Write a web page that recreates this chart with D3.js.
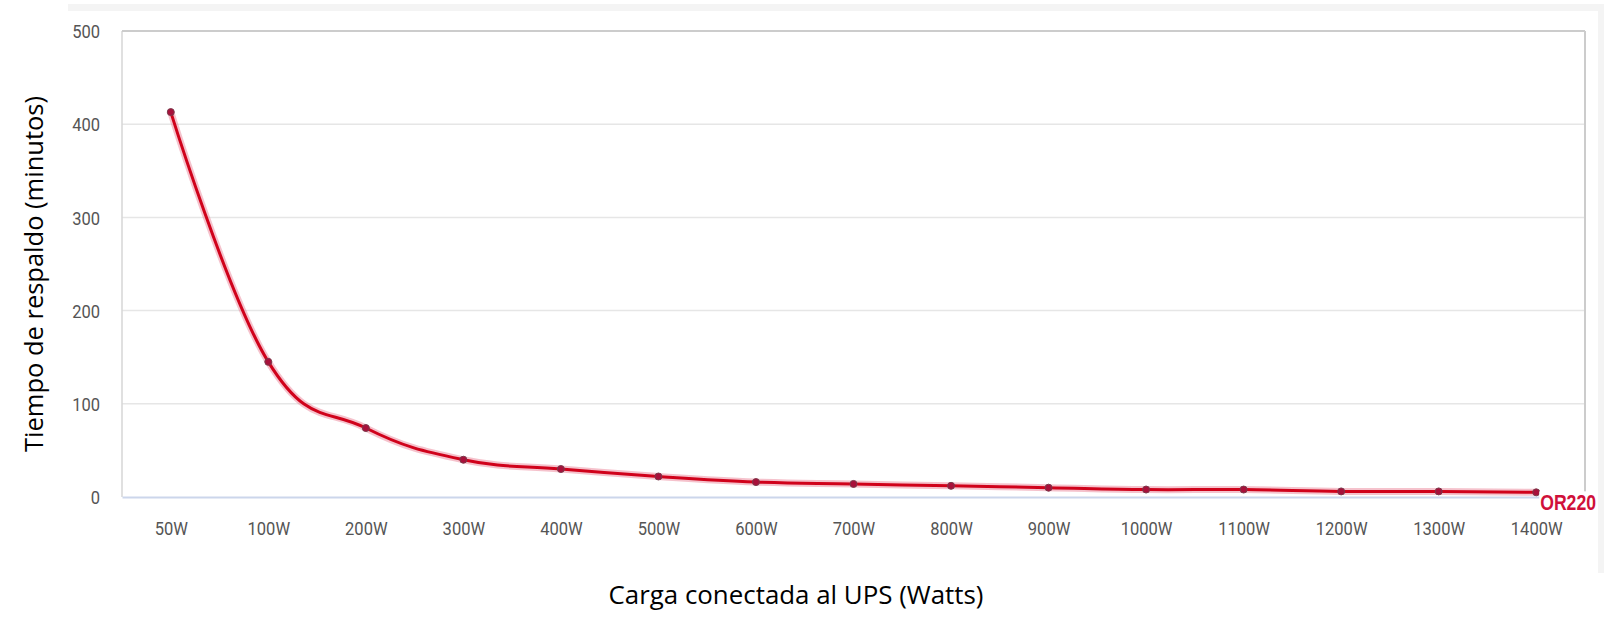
<!DOCTYPE html>
<html>
<head>
<meta charset="utf-8">
<script src="https://cdn.jsdelivr.net/npm/d3@7/dist/d3.min.js"></script>
<style>
  body { margin: 0; background: #fff; }
  svg { display: block; }
</style>
</head>
<body>
<svg id="svg" width="1610" height="617"></svg>
<script>
// data
var cargas = ["50W", "100W", "200W", "300W", "400W", "500W", "600W", "700W",
              "800W", "900W", "1000W", "1100W", "1200W", "1300W", "1400W"];
var minutos = [413, 145, 74, 40, 30, 22, 16, 14, 12, 10, 8, 8, 6, 6, 5];
var yTicks = [0, 100, 200, 300, 400, 500];
var serie = "OR220";

function draw_chart() {
    var svg = d3.select("svg");

    var left = 122, right = 1585, top = 31, bottom = 497;

    // panel frame (light grey strips)
    svg.append("rect").attr("x", 68).attr("y", 4).attr("width", 1536).attr("height", 7).attr("fill", "#f4f4f4");
    svg.append("rect").attr("x", 1598).attr("y", 4).attr("width", 6).attr("height", 569).attr("fill", "#f4f4f4");

    var x = d3.scalePoint()
            .domain(cargas)
            .range([left, right])
            .padding(0.5);

    var y = d3.scaleLinear()
            .domain([0, 500])
            .range([bottom, top]);

    // grid lines
    svg.append("g")
            .selectAll("line")
            .data(yTicks.filter(function (d) { return d > 0 && d < 500; }))
            .enter().append("line")
            .attr("x1", left).attr("x2", right)
            .attr("y1", function (d) { return y(d); })
            .attr("y2", function (d) { return y(d); })
            .attr("stroke", "#e6e6e6")
            .attr("stroke-width", 1.5);

    // plot border
    svg.append("line").attr("x1", left).attr("x2", left).attr("y1", y(500)).attr("y2", bottom)
            .attr("stroke", "#d6d6d6").attr("stroke-width", 1.5);
    svg.append("line").attr("x1", left).attr("x2", right).attr("y1", y(500)).attr("y2", y(500))
            .attr("stroke", "#cccccc").attr("stroke-width", 2);
    svg.append("line").attr("x1", right).attr("x2", right).attr("y1", y(500)).attr("y2", bottom)
            .attr("stroke", "#cccccc").attr("stroke-width", 2);

    // y axis
    var gy = svg.append("g")
            .attr("transform", "translate(" + left + ",0)")
            .call(d3.axisLeft(y).tickValues(yTicks).tickSize(0).tickPadding(0));
    gy.select(".domain").remove();
    gy.selectAll("text")
            .attr("x", 0)
            .attr("dy", "0.35em")
            .attr("transform", "translate(-22,0) scale(0.87,1)")
            .attr("font-family", "Roboto")
            .attr("font-size", 19)
            .attr("fill", "#555");

    // x axis
    var gx = svg.append("g")
            .attr("transform", "translate(0," + bottom + ")")
            .call(d3.axisBottom(x).tickSize(0).tickPadding(0));
    gx.select(".domain")
            .attr("stroke", "#ccd6eb")
            .attr("stroke-width", 2);
    gx.selectAll("text")
            .attr("y", 0)
            .attr("dy", 0)
            .attr("transform", "translate(0,38) scale(0.87,1)")
            .attr("font-family", "Roboto")
            .attr("font-size", 19)
            .attr("fill", "#555");

    var puntos = cargas.map(function (c, i) {
        return {c: c, v: minutos[i]};
    });

    // spline close to the original (control arms 0.4 of the step)
    var line = d3.line()
            .curve(d3.curveCardinal.tension(-0.2))
            .x(function (d) { return x(d.c); })
            .y(function (d) { return y(d.v); });

    // glow under the line
    svg.append("path")
            .datum(puntos)
            .attr("fill", "none")
            .attr("stroke", "#e8788f")
            .attr("stroke-opacity", 0.45)
            .attr("stroke-width", 7)
            .attr("stroke-linejoin", "round")
            .attr("d", line);

    svg.append("path")
            .datum(puntos)
            .attr("fill", "none")
            .attr("stroke", "#d0021b")
            .attr("stroke-width", 3)
            .attr("stroke-linejoin", "round")
            .attr("stroke-linecap", "round")
            .attr("d", line);

    svg.append("g")
            .selectAll("circle")
            .data(puntos)
            .enter().append("circle")
            .attr("cx", function (d) { return x(d.c); })
            .attr("cy", function (d) { return y(d.v); })
            .attr("r", 3.5)
            .attr("fill", "#a8103a")
            .attr("stroke", "#7a3a4c")
            .attr("stroke-width", 1);

    // series label at the end of the line, on a white patch
    var last = puntos[puntos.length - 1];
    var lx = x(last.c) + 4, ly = y(last.v) + 18;
    svg.append("rect")
            .attr("x", lx - 1).attr("y", ly - 19)
            .attr("width", 58).attr("height", 22)
            .attr("fill", "#fff");
    svg.append("text")
            .attr("transform", "translate(" + lx + "," + ly + ") scale(0.8,1)")
            .attr("font-family", "Liberation Sans")
            .attr("font-weight", "bold")
            .attr("font-size", 22)
            .attr("fill", "#d0103a")
            .text(serie);

    // axis titles
    svg.append("text")
            .attr("transform", "translate(43,274) rotate(-90)")
            .attr("text-anchor", "middle")
            .attr("font-family", "Open Sans")
            .attr("font-size", 25)
            .attr("textLength", 356)
            .attr("lengthAdjust", "spacingAndGlyphs")
            .attr("fill", "#000")
            .text("Tiempo de respaldo (minutos)");

    svg.append("text")
            .attr("x", 796)
            .attr("y", 604)
            .attr("text-anchor", "middle")
            .attr("font-family", "Open Sans")
            .attr("font-size", 25)
            .attr("textLength", 375)
            .attr("lengthAdjust", "spacingAndGlyphs")
            .attr("fill", "#000")
            .text("Carga conectada al UPS (Watts)");
}

draw_chart();
</script>
</body>
</html>
